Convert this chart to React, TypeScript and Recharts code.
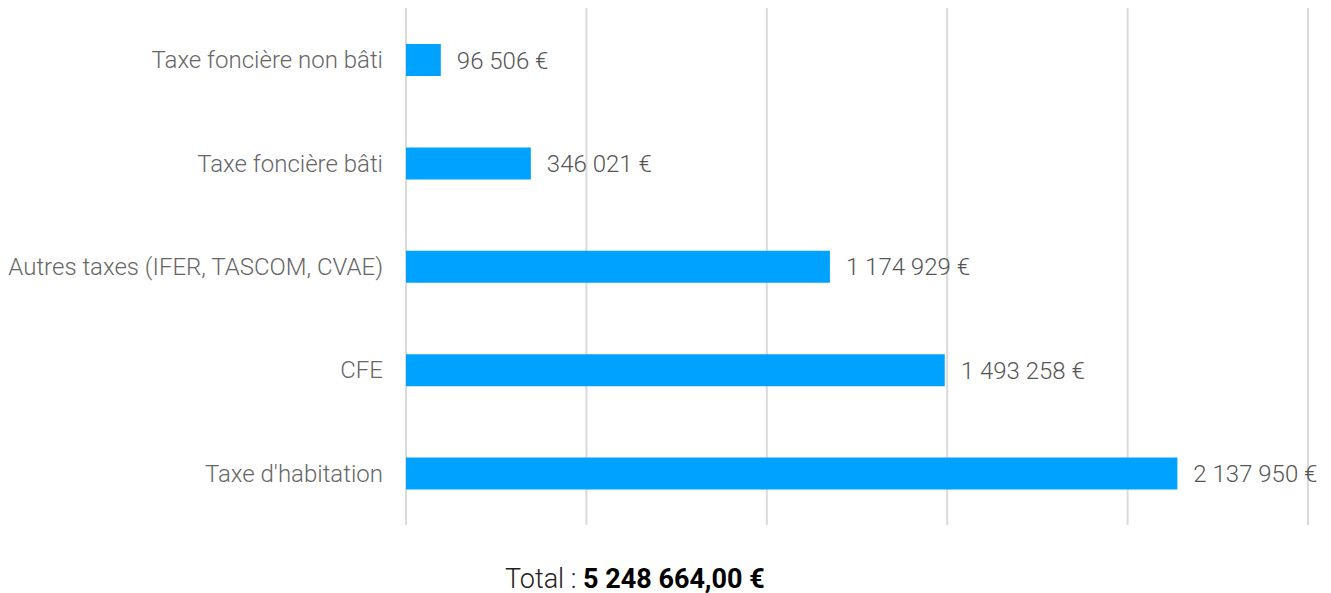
import React from "react";
import { BarChart, Bar, XAxis, YAxis, CartesianGrid, LabelList } from "recharts";

const categories = [
  "Taxe foncière non bâti",
  "Taxe foncière bâti",
  "Autres taxes (IFER, TASCOM, CVAE)",
  "CFE",
  "Taxe d'habitation",
];
const amounts = [96506, 346021, 1174929, 1493258, 2137950];
const xTicks = [0, 500000, 1000000, 1500000, 2000000, 2500000];
const totalLabel = "5 248 664,00 €";

const fmt = (v: number) => v.toString().replace(/\B(?=(\d{3})+(?!\d))/g, " ") + " €";

export default function App() {
  const data = categories.map((name, i) => ({ name, value: amounts[i] }));
  const font = "Roboto, sans-serif";

  return (
    <div style={{ position: "absolute", left: 0, top: 0, width: 1331, height: 593, background: "#fff", fontFamily: font }}>
      <BarChart
        width={1331}
        height={540}
        data={data}
        layout="vertical"
        margin={{ top: 8, right: 23, bottom: 15, left: 0 }}
        barSize={32}
      >
        <CartesianGrid horizontal={false} stroke="#dadada" strokeWidth={2} />
        <XAxis type="number" domain={[0, 2500000]} ticks={xTicks} hide />
        <YAxis
          type="category"
          dataKey="name"
          width={406}
          axisLine={false}
          tickLine={false}
          tickSize={0}
          tickMargin={23}
          tick={{ fill: "#666", fontSize: 24, fontFamily: font, fontWeight: 300 }}
        />
        <Bar dataKey="value" fill="#00a2ff" isAnimationActive={false}>
          <LabelList
            dataKey="value"
            position="right"
            offset={16}
            formatter={(v: number) => fmt(v)}
            style={{ fill: "#555", fontSize: 24, fontFamily: font, fontWeight: 300 }}
          />
        </Bar>
      </BarChart>
      <div style={{ position: "absolute", left: 505, top: 563, fontSize: 27, lineHeight: "32px", color: "#222", whiteSpace: "nowrap" }}>
        <span style={{ fontWeight: 300 }}>Total : </span>
        <span style={{ fontWeight: 700, color: "#000" }}>{totalLabel}</span>
      </div>
    </div>
  );
}
